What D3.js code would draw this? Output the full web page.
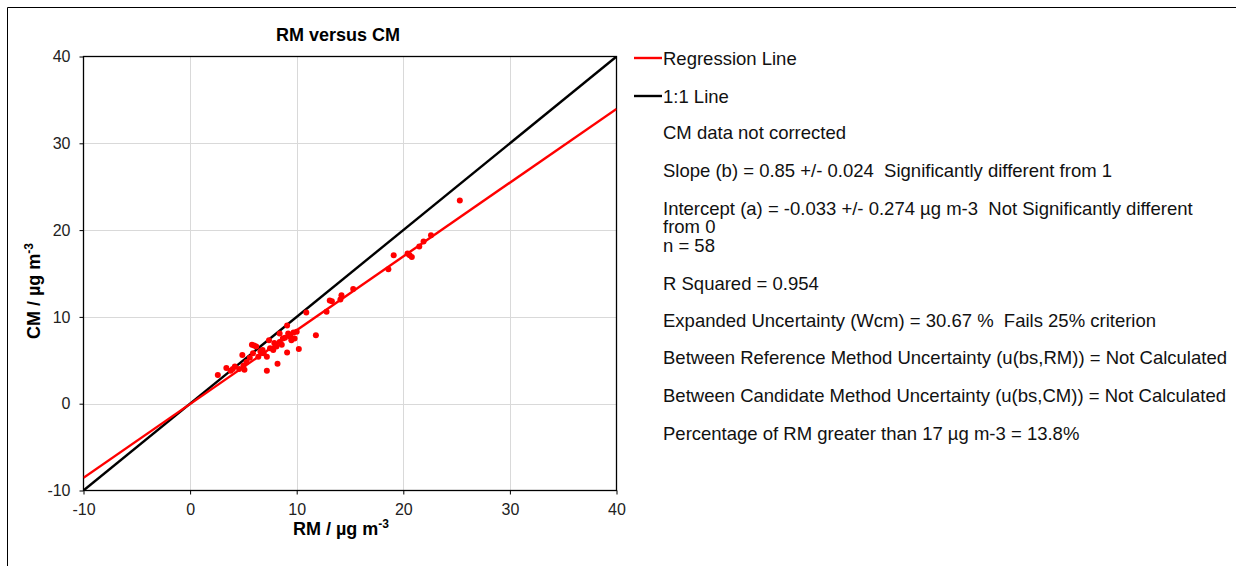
<!DOCTYPE html>
<html>
<head>
<meta charset="utf-8">
<script src="https://cdn.jsdelivr.net/npm/d3@7"></script>
<style>
  body { margin: 0; background: #fff; }
  text { font-family: "Liberation Sans", Arial, sans-serif; white-space: pre; }
</style>
</head>
<body>
<svg id="chart" width="1236" height="566"></svg>
<script>
// data
var rmValues = [2.6, 3.4, 3.8, 4.2, 4.6, 5.1, 4.9, 5.3, 5.8, 6.2, 5.9, 6.6, 6.4, 6.9, 7.2, 7.2, 7.4, 7.5, 7.8, 8.1,
  8.2, 8.4, 8.4, 8.6, 8.7, 9.1, 9.2, 9.4, 9.5, 9.7, 9.1, 10.0, 10.2, 10.9, 11.8, 12.8, 13.3, 13.1, 14.1, 14.2,
  15.3, 18.6, 19.1, 20.4, 20.6, 20.8, 21.5, 21.9, 22.6, 25.3, 6.0, 5.6, 6.8, 7.9, 8.9, 9.8, 5.0, 4.0];
var cmValues = [3.3, 4.1, 3.8, 4.3, 4.0, 3.9, 5.6, 4.8, 6.8, 6.6, 5.8, 6.0, 5.4, 5.8, 5.4, 3.8, 7.3, 6.4, 6.2, 6.6,
  4.6, 8.1, 7.1, 6.8, 7.5, 9.0, 8.1, 7.7, 7.3, 8.2, 5.9, 8.3, 6.3, 10.5, 7.9, 10.6, 11.8, 11.9, 12.0, 12.5,
  13.2, 15.5, 17.1, 17.3, 17.1, 16.9, 18.1, 18.7, 19.4, 23.4, 6.7, 5.3, 6.2, 7.0, 7.6, 7.5, 4.4, 4.0];

var xTicks = [-10, 0, 10, 20, 30, 40];
var yTicks = [-10, 0, 10, 20, 30, 40];

var slope = 0.85, intercept = -0.033;

var legendNames = ["Regression Line", "1:1 Line"];
var legendColors = ["#ff0000", "#000000"];

var statLines = [
  "CM data not corrected",
  "Slope (b) = 0.85 +/- 0.024  Significantly different from 1",
  "Intercept (a) = -0.033 +/- 0.274 µg m-3  Not Significantly different",
  "from 0",
  "n = 58",
  "R Squared = 0.954",
  "Expanded Uncertainty (Wcm) = 30.67 %  Fails 25% criterion",
  "Between Reference Method Uncertainty (u(bs,RM)) = Not Calculated",
  "Between Candidate Method Uncertainty (u(bs,CM)) = Not Calculated",
  "Percentage of RM greater than 17 µg m-3 = 13.8%"
];
var statY = [133, 171, 209, 227, 246, 284, 321, 358, 396, 434];

var svg = d3.select("#chart");

// outer frame (top and left edges visible)
svg.append("path")
  .attr("d", "M7.5,566V7.5H1236")
  .attr("fill", "none")
  .attr("stroke", "#000")
  .attr("stroke-width", 1);

var pLeft = 83.5, pRight = 616.5, pTop = 56.5, pBottom = 490.5;

var x = d3.scaleLinear().domain([-10, 40]).range([pLeft, pRight]);
var y = d3.scaleLinear().domain([-10, 40]).range([pBottom, pTop]);

// grid
var grid = svg.append("g").attr("stroke", "#d9d9d9").attr("stroke-width", 1);
grid.selectAll(".gx").data(xTicks.slice(1, -1)).enter().append("line")
  .attr("x1", d => Math.round(x(d)) + 0.5).attr("x2", d => Math.round(x(d)) + 0.5)
  .attr("y1", pTop).attr("y2", pBottom);
grid.selectAll(".gy").data(yTicks.slice(1, -1)).enter().append("line")
  .attr("y1", d => Math.round(y(d)) + 0.5).attr("y2", d => Math.round(y(d)) + 0.5)
  .attr("x1", pLeft).attr("x2", pRight);

// axes
var xAxis = svg.append("g")
  .attr("transform", "translate(0," + pBottom + ")")
  .call(d3.axisBottom(x).tickValues(xTicks).tickFormat(d => String(d))
    .tickSizeInner(4).tickSizeOuter(0).tickPadding(9));
var yAxis = svg.append("g")
  .attr("transform", "translate(" + pLeft + ",0)")
  .call(d3.axisLeft(y).tickValues(yTicks).tickFormat(d => String(d))
    .tickSizeInner(4).tickSizeOuter(0).tickPadding(9));
[xAxis, yAxis].forEach(function(a) {
  a.select(".domain").remove();
  a.selectAll("text").attr("font-size", 16).attr("fill", "#222")
    .style("font-family", "'Liberation Sans', Arial, sans-serif");
  a.selectAll("line").attr("stroke", "#000");
});

// plot border
svg.append("rect")
  .attr("x", pLeft).attr("y", pTop)
  .attr("width", pRight - pLeft).attr("height", pBottom - pTop)
  .attr("fill", "none").attr("stroke", "#000").attr("stroke-width", 1.3);

svg.append("clipPath").attr("id", "clip").append("rect")
  .attr("x", pLeft).attr("y", pTop).attr("width", pRight - pLeft).attr("height", pBottom - pTop);

var plot = svg.append("g").attr("clip-path", "url(#clip)");

// lines
var line = d3.line().x(d => x(d[0])).y(d => y(d[1]));
plot.append("path")
  .datum([[-10, -10], [40, 40]])
  .attr("d", line).attr("stroke", "#000").attr("stroke-width", 2.4).attr("fill", "none");
plot.append("path")
  .datum([[-10, slope * -10 + intercept], [40, slope * 40 + intercept]])
  .attr("d", line).attr("stroke", "#ff0000").attr("stroke-width", 2.4).attr("fill", "none");

// points
plot.selectAll("circle")
  .data(d3.range(rmValues.length))
  .enter().append("circle")
  .attr("cx", i => x(rmValues[i]))
  .attr("cy", i => y(cmValues[i]))
  .attr("r", 3)
  .attr("fill", "#ff0000");

// title
svg.append("text")
  .attr("x", 338).attr("y", 41)
  .attr("text-anchor", "middle")
  .attr("font-size", 18).attr("font-weight", "bold")
  .text("RM versus CM");

// axis titles
var xt = svg.append("text")
  .attr("x", 341).attr("y", 535)
  .attr("text-anchor", "middle")
  .attr("font-size", 18).attr("font-weight", "bold");
xt.append("tspan").text("RM / µg m");
xt.append("tspan").attr("dy", -7).attr("font-size", 12).text("-3");

var yt = svg.append("text")
  .attr("transform", "translate(40,291) rotate(-90)")
  .attr("text-anchor", "middle")
  .attr("font-size", 18).attr("font-weight", "bold");
yt.append("tspan").text("CM / µg m");
yt.append("tspan").attr("dy", -7).attr("font-size", 12).text("-3");

// legend
var leg = svg.append("g");
legendNames.forEach(function(name, i) {
  var ly = 58 + i * 38;
  leg.append("line")
    .attr("x1", 634).attr("x2", 662).attr("y1", ly).attr("y2", ly)
    .attr("stroke", legendColors[i]).attr("stroke-width", 2.4);
  leg.append("text")
    .attr("x", 663).attr("y", ly + 7)
    .attr("font-size", 18.5).attr("fill", "#111")
    .text(name);
});

// stats text
svg.append("g").selectAll("text")
  .data(statLines)
  .enter().append("text")
  .attr("x", 663)
  .attr("y", (d, i) => statY[i] + 6)
  .attr("font-size", 18.5).attr("fill", "#111")
  .text(d => d);
</script>
</body>
</html>
